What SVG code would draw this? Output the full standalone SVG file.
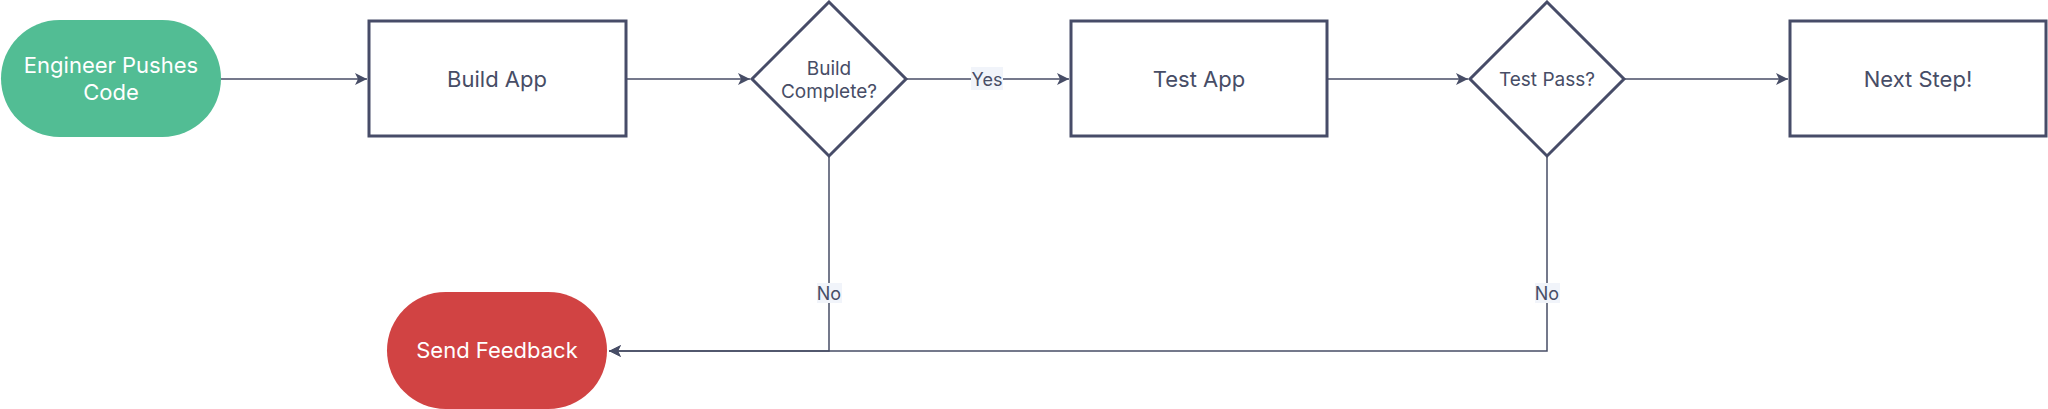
<svg xmlns="http://www.w3.org/2000/svg" width="2048" height="409" viewBox="0 0 2048 409">
<defs>
<style>
.box{fill:#ffffff;stroke:#474c68;stroke-width:3}
.term-g{fill:#52bd94}
.term-r{fill:#d14343}
.t{font-family:Inter,"Noto Sans",sans-serif;text-anchor:middle;dominant-baseline:central;fill:#474d66}
.tw{font-family:Inter,"Noto Sans",sans-serif;text-anchor:middle;dominant-baseline:central;fill:#ffffff;font-size:22px}
.edge{fill:none;stroke:#474d66;stroke-width:1.5}
.lbg{fill:#f1f4fa}
</style>
<marker id="arr" viewBox="0 0 12 12" refX="12" refY="6" markerWidth="12" markerHeight="12" markerUnits="userSpaceOnUse" orient="auto">
<path d="M0,0 L12,6 L0,12 L3,6 Z" fill="#474d66"/>
</marker>
</defs>
<rect width="2048" height="409" fill="#ffffff"/>
<g id="connectors">
<path class="edge" d="M221,79 H367" marker-end="url(#arr)"/>
<path class="edge" d="M626,79 H750" marker-end="url(#arr)"/>
<path class="edge" d="M906,79 H1069" marker-end="url(#arr)"/>
<path class="edge" d="M1327,79 H1468" marker-end="url(#arr)"/>
<path class="edge" d="M1624,79 H1788" marker-end="url(#arr)"/>
<path class="edge" d="M829,156 V351 H609" marker-end="url(#arr)"/>
<path class="edge" d="M1547,156 V351 H609" marker-end="url(#arr)"/>
<g id="label-yes">
<rect class="lbg" x="971" y="67" width="32" height="23"/>
<text class="t" x="987" y="79" font-size="18">Yes</text>
</g>
<g id="label-no1">
<rect class="lbg" x="817" y="283" width="25" height="20"/>
<text class="t" x="829" y="293" font-size="18">No</text>
</g>
<g id="label-no2">
<rect class="lbg" x="1535" y="283" width="25" height="20"/>
<text class="t" x="1547" y="293" font-size="18">No</text>
</g>
</g>
<g id="engineer-pushes-code">
<rect class="term-g" x="1" y="20" width="220" height="117" rx="58.5" ry="58.5"/>
<text class="tw" x="111" y="65">Engineer Pushes</text>
<text class="tw" x="111" y="92">Code</text>
</g>
<g id="build-app">
<rect class="box" x="369" y="21" width="257" height="115"/>
<text class="t" x="497" y="79" font-size="22">Build App</text>
</g>
<g id="build-complete">
<polygon class="box" points="829,2 906,79 829,156 752,79"/>
<text class="t" x="829" y="68" font-size="19">Build</text>
<text class="t" x="829" y="91" font-size="19">Complete?</text>
</g>
<g id="test-app">
<rect class="box" x="1071" y="21" width="256" height="115"/>
<text class="t" x="1199" y="79" font-size="22">Test App</text>
</g>
<g id="test-pass">
<polygon class="box" points="1547,2 1624,79 1547,156 1470,79"/>
<text class="t" x="1547" y="79" font-size="19">Test Pass?</text>
</g>
<g id="next-step">
<rect class="box" x="1790" y="21" width="256" height="115"/>
<text class="t" x="1918" y="79" font-size="22">Next Step!</text>
</g>
<g id="send-feedback">
<rect class="term-r" x="387" y="292" width="220" height="117" rx="58.5" ry="58.5"/>
<text class="tw" x="497" y="350">Send Feedback</text>
</g>
</svg>
